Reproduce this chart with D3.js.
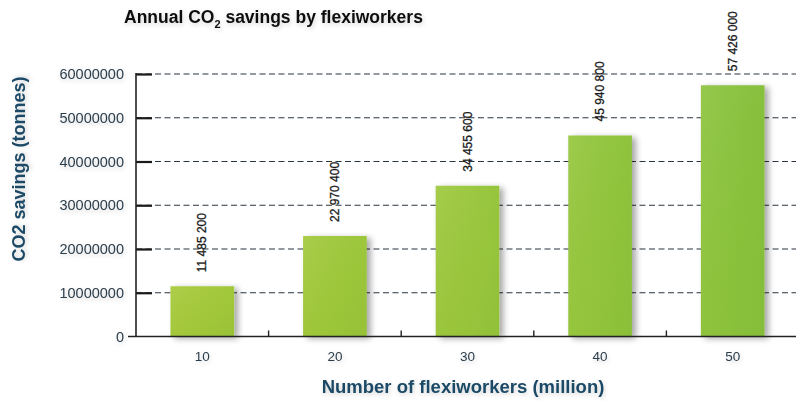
<!DOCTYPE html>
<html>
<head>
<meta charset="utf-8">
<script src="https://cdn.jsdelivr.net/npm/d3@7"></script>
<style>
  html, body { margin: 0; padding: 0; background: #fff; }
  svg { display: block; }
</style>
</head>
<body>
<svg id="chart" width="796" height="401"></svg>
<script>
// ---- data ----
const categories = ["10", "20", "30", "40", "50"];
const savings = [11485200, 22970400, 34455600, 45940800, 57426000];
const valueLabels = ["11 485 200", "22 970 400", "34 455 600", "45 940 800", "57 426 000"];
const yTicks = [0, 10000000, 20000000, 30000000, 40000000, 50000000, 60000000];

const svg = d3.select("#chart");
const W = 796, H = 401;
const plot = { left: 136, right: 799, top: 74, bottom: 336.5 };

const defs = svg.append("defs");
const shadow = defs.append("filter").attr("id", "shadow")
  .attr("x", "-30%").attr("y", "-10%").attr("width", "170%").attr("height", "130%");
shadow.append("feGaussianBlur").attr("in", "SourceAlpha").attr("stdDeviation", 3).attr("result", "b");
shadow.append("feOffset").attr("in", "b").attr("dx", 4).attr("dy", 2).attr("result", "o");
shadow.append("feComponentTransfer").attr("in", "o").attr("result", "s")
  .append("feFuncA").attr("type", "linear").attr("slope", 0.35);
const m = shadow.append("feMerge");
m.append("feMergeNode").attr("in", "s");
m.append("feMergeNode").attr("in", "SourceGraphic");

const tshadow = defs.append("filter").attr("id", "tshadow")
  .attr("x", "-20%").attr("y", "-40%").attr("width", "140%").attr("height", "180%");
tshadow.append("feGaussianBlur").attr("in", "SourceAlpha").attr("stdDeviation", 2.5).attr("result", "b");
tshadow.append("feOffset").attr("in", "b").attr("dx", 1).attr("dy", 2).attr("result", "o");
tshadow.append("feComponentTransfer").attr("in", "o").attr("result", "s")
  .append("feFuncA").attr("type", "linear").attr("slope", 0.18);
const m2 = tshadow.append("feMerge");
m2.append("feMergeNode").attr("in", "s");
m2.append("feMergeNode").attr("in", "SourceGraphic");

const grad = defs.append("linearGradient").attr("id", "leaf")
  .attr("gradientUnits", "userSpaceOnUse")
  .attr("x1", 160).attr("y1", 336).attr("x2", 780).attr("y2", 80);
grad.append("stop").attr("offset", "0%").attr("stop-color", "#a9ca3a");
grad.append("stop").attr("offset", "50%").attr("stop-color", "#9cc83c");
grad.append("stop").attr("offset", "100%").attr("stop-color", "#88c23e");

const vgrad = defs.append("linearGradient").attr("id", "leafv")
  .attr("x1", 0).attr("y1", 0).attr("x2", 1).attr("y2", 1);
vgrad.append("stop").attr("offset", "0%").attr("stop-color", "#ffffff").attr("stop-opacity", 0.08);
vgrad.append("stop").attr("offset", "60%").attr("stop-color", "#3a8a20").attr("stop-opacity", 0.05);
vgrad.append("stop").attr("offset", "100%").attr("stop-color", "#3a8a20").attr("stop-opacity", 0.12);

// ---- scales ----
const x = d3.scaleBand().domain(categories).range([plot.left, plot.right])
  .paddingInner(0.52).paddingOuter(0.26);
const y = d3.scaleLinear().domain([0, 60000000]).range([plot.bottom, plot.top]);

const textColor = "#2c3e4c";
const titleBlue = "#1c4a66";

// ---- gridlines ----
svg.append("g").selectAll("line").data(yTicks.filter(d => d > 0)).join("line")
  .attr("x1", plot.left).attr("x2", W)
  .attr("y1", d => y(d)).attr("y2", d => y(d))
  .attr("stroke", "#2a3540").attr("stroke-width", 1.1)
  .attr("stroke-dasharray", "6,3.5");

// ---- y axis ----
const yAxis = d3.axisRight(y).tickValues(yTicks.filter(d => d > 0)).tickSize(16).tickFormat("");
const yg = svg.append("g").attr("transform", `translate(${plot.left},0)`).call(yAxis);
yg.select(".domain").remove();
yg.selectAll(".tick line").attr("stroke", "#1a1a1a").attr("stroke-width", 2.2);
svg.append("line").attr("x1", plot.left).attr("x2", plot.left)
  .attr("y1", y(60000000) - 1).attr("y2", plot.bottom)
  .attr("stroke", "#222").attr("stroke-width", 1.6);

const ylab = svg.append("g").attr("filter", "url(#tshadow)");
ylab.selectAll("text").data(yTicks).join("text")
  .attr("x", 124).attr("y", d => y(d))
  .attr("dy", "0.36em")
  .attr("text-anchor", "end")
  .attr("font-family", "Liberation Sans, Arial, sans-serif")
  .attr("font-size", 14.5)
  .attr("fill", textColor)
  .text(d => d3.format("d")(d));

// ---- bars ----
const bars = svg.append("g");
bars.selectAll("rect.bar").data(savings).join("rect")
  .attr("class", "bar")
  .attr("x", (d, i) => x(categories[i]))
  .attr("y", d => y(d))
  .attr("width", x.bandwidth())
  .attr("height", d => y(0) - y(d))
  .attr("fill", "url(#leaf)")
  .attr("filter", "url(#shadow)");
bars.selectAll("rect.sheen").data(savings).join("rect")
  .attr("class", "sheen")
  .attr("x", (d, i) => x(categories[i]))
  .attr("y", d => y(d))
  .attr("width", x.bandwidth())
  .attr("height", d => y(0) - y(d))
  .attr("fill", "url(#leafv)");

// ---- x axis ----
svg.append("line").attr("x1", 128).attr("x2", W)
  .attr("y1", plot.bottom).attr("y2", plot.bottom)
  .attr("stroke", "#222").attr("stroke-width", 1.6);
const bounds = categories.slice(1).map(c => x(c) - x.step() * x.paddingInner() / 2);
svg.append("g").selectAll("line").data(bounds).join("line")
  .attr("x1", d => d).attr("x2", d => d)
  .attr("y1", plot.bottom).attr("y2", plot.bottom - 6)
  .attr("stroke", "#222").attr("stroke-width", 1.4);

const xlab = svg.append("g").attr("filter", "url(#tshadow)");
xlab.selectAll("text").data(categories).join("text")
  .attr("x", d => x(d) + x.bandwidth() / 2)
  .attr("y", 356)
  .attr("dy", "0.36em")
  .attr("text-anchor", "middle")
  .attr("font-family", "Liberation Sans, Arial, sans-serif")
  .attr("font-size", 13.5)
  .attr("fill", textColor)
  .text(d => d);

// ---- value labels ----
svg.append("g").selectAll("text").data(savings).join("text")
  .attr("transform", (d, i) => `translate(${x(categories[i]) + x.bandwidth() / 2 + 4},${y(d) - 14}) rotate(-90)`)
  .attr("text-anchor", "start")
  .attr("font-family", "Liberation Sans, Arial, sans-serif")
  .attr("font-size", 12)
  .attr("fill", "#1a1a1a")
  .attr("stroke", "#1a1a1a")
  .attr("stroke-width", 0.3)
  .text((d, i) => valueLabels[i]);

// ---- titles ----
const title = svg.append("text")
  .attr("x", 124).attr("y", 23)
  .attr("font-family", "Liberation Sans Narrow, Arial Narrow, sans-serif")
  .attr("font-weight", "bold")
  .attr("font-size", 17.5)
  .attr("fill", "#111")
  .attr("filter", "url(#tshadow)");
title.append("tspan").text("Annual CO");
title.append("tspan").attr("font-size", 11).attr("dy", 5).text("2");
title.append("tspan").attr("dy", -5).text(" savings by flexiworkers");

svg.append("text")
  .attr("transform", "translate(25,169) rotate(-90)")
  .attr("text-anchor", "middle")
  .attr("font-family", "Liberation Sans Narrow, Arial Narrow, sans-serif")
  .attr("font-weight", "bold")
  .attr("font-size", 18)
  .attr("fill", titleBlue)
  .attr("filter", "url(#tshadow)")
  .text("CO2 savings (tonnes)");

svg.append("text")
  .attr("x", 463).attr("y", 393)
  .attr("text-anchor", "middle")
  .attr("font-family", "Liberation Sans Narrow, Arial Narrow, sans-serif")
  .attr("font-weight", "bold")
  .attr("font-size", 18.5)
  .attr("fill", titleBlue)
  .attr("filter", "url(#tshadow)")
  .text("Number of flexiworkers (million)");
</script>
</body>
</html>
